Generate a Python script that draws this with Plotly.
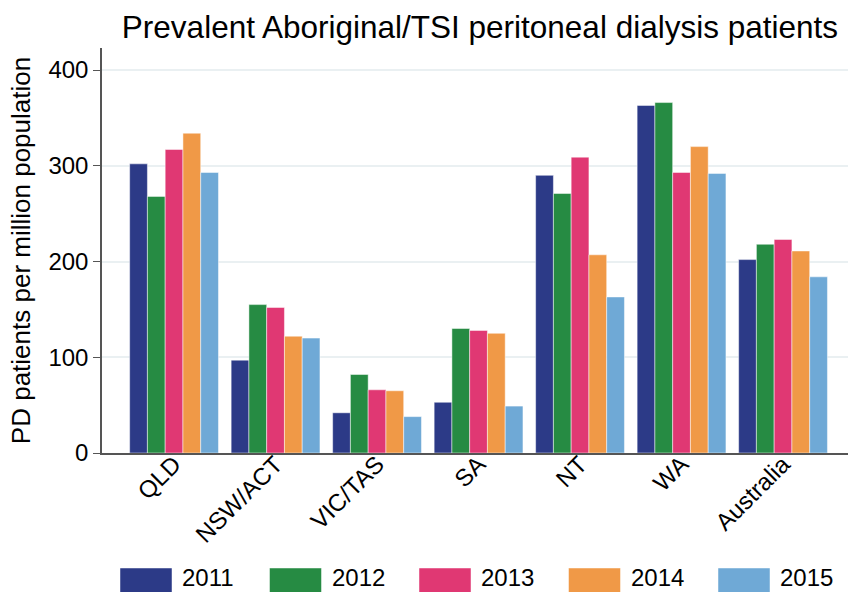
import plotly.graph_objects as go

# ============================================
# Data
# ============================================

regions = ["QLD", "NSW/ACT", "VIC/TAS", "SA", "NT", "WA", "Australia"]

years = ["2011", "2012", "2013", "2014", "2015"]

pd_2011 = [302, 97, 42, 53, 290, 363, 202]
pd_2012 = [268, 155, 82, 130, 271, 366, 218]
pd_2013 = [317, 152, 66, 128, 309, 293, 223]
pd_2014 = [334, 122, 65, 125, 207, 320, 211]
pd_2015 = [293, 120, 38, 49, 163, 292, 184]

values = [pd_2011, pd_2012, pd_2013, pd_2014, pd_2015]

colors = ["#2c3a87", "#268b43", "#e03873", "#f09947", "#6fa9d6"]

y_ticks = [0, 100, 200, 300, 400]

FONT = "Liberation Sans, Arial, sans-serif"

# ============================================
# Chart
# ============================================

fig = go.Figure()

for year, vals, color in zip(years, values, colors):
    fig.add_trace(
        go.Bar(
            x=regions,
            y=vals,
            name=year,
            marker=dict(
                color=color,
                line=dict(color="rgba(255,255,255,0.6)", width=0.8)
            ),
            showlegend=False
        )
    )

# legend drawn by hand so the keys are wide rectangles
W = 848
H = 592
L = 102
TOP = 48
BASE = 453
plot_w = W - L
plot_h = BASE - TOP

for i, (year, color) in enumerate(zip(years, colors)):
    x0 = 120 + i * 149.5
    fig.add_shape(
        type="rect",
        xref="paper",
        yref="paper",
        x0=(x0 - L) / plot_w,
        x1=(x0 + 52 - L) / plot_w,
        y0=-(568 - BASE) / plot_h,
        y1=-(594 - BASE) / plot_h,
        fillcolor=color,
        line=dict(color="rgba(255,255,255,0.6)", width=0.8)
    )
    fig.add_annotation(
        xref="paper",
        yref="paper",
        x=(x0 + 60 - L) / plot_w,
        y=-(577 - BASE) / plot_h,
        text=year,
        showarrow=False,
        xanchor="left",
        yanchor="middle",
        font=dict(size=24, color="black", family=FONT)
    )

fig.update_layout(

    width=W,
    height=H,

    margin=dict(
        l=L,
        r=0,
        t=TOP,
        b=H - BASE
    ),

    paper_bgcolor="white",
    plot_bgcolor="white",

    font=dict(
        family=FONT,
        size=24,
        color="black"
    ),

    title=dict(
        text="Prevalent Aboriginal/TSI peritoneal dialysis patients",
        xref="container",
        yref="container",
        x=838 / W,
        y=1 - 27 / H,
        xanchor="right",
        yanchor="middle",
        font=dict(size=31.5, color="black", family=FONT)
    ),

    barmode="group",
    bargap=0.125,
    bargroupgap=0,

    xaxis=dict(
        range=[-0.71, 6.64],
        tickangle=-45,
        showgrid=False,
        showline=True,
        linecolor="#555555",
        linewidth=1.5,
        ticks="",
        ticklabelstandoff=-14,
        tickfont=dict(size=24)
    ),

    yaxis=dict(
        range=[0, 423],
        tickvals=y_ticks,
        showgrid=True,
        gridcolor="#eaf0f2",
        gridwidth=2,
        zeroline=False,
        showline=True,
        linecolor="#555555",
        linewidth=1.5,
        ticks="outside",
        ticklen=7,
        tickcolor="#555555",
        tickfont=dict(size=24),
        title=dict(
            text="PD patients per million population",
            font=dict(size=26),
            standoff=10
        )
    )

)

fig.write_html(
    "out.html",
    config={"displayModeBar": False},
    post_script="document.body.style.margin='0';"
)
